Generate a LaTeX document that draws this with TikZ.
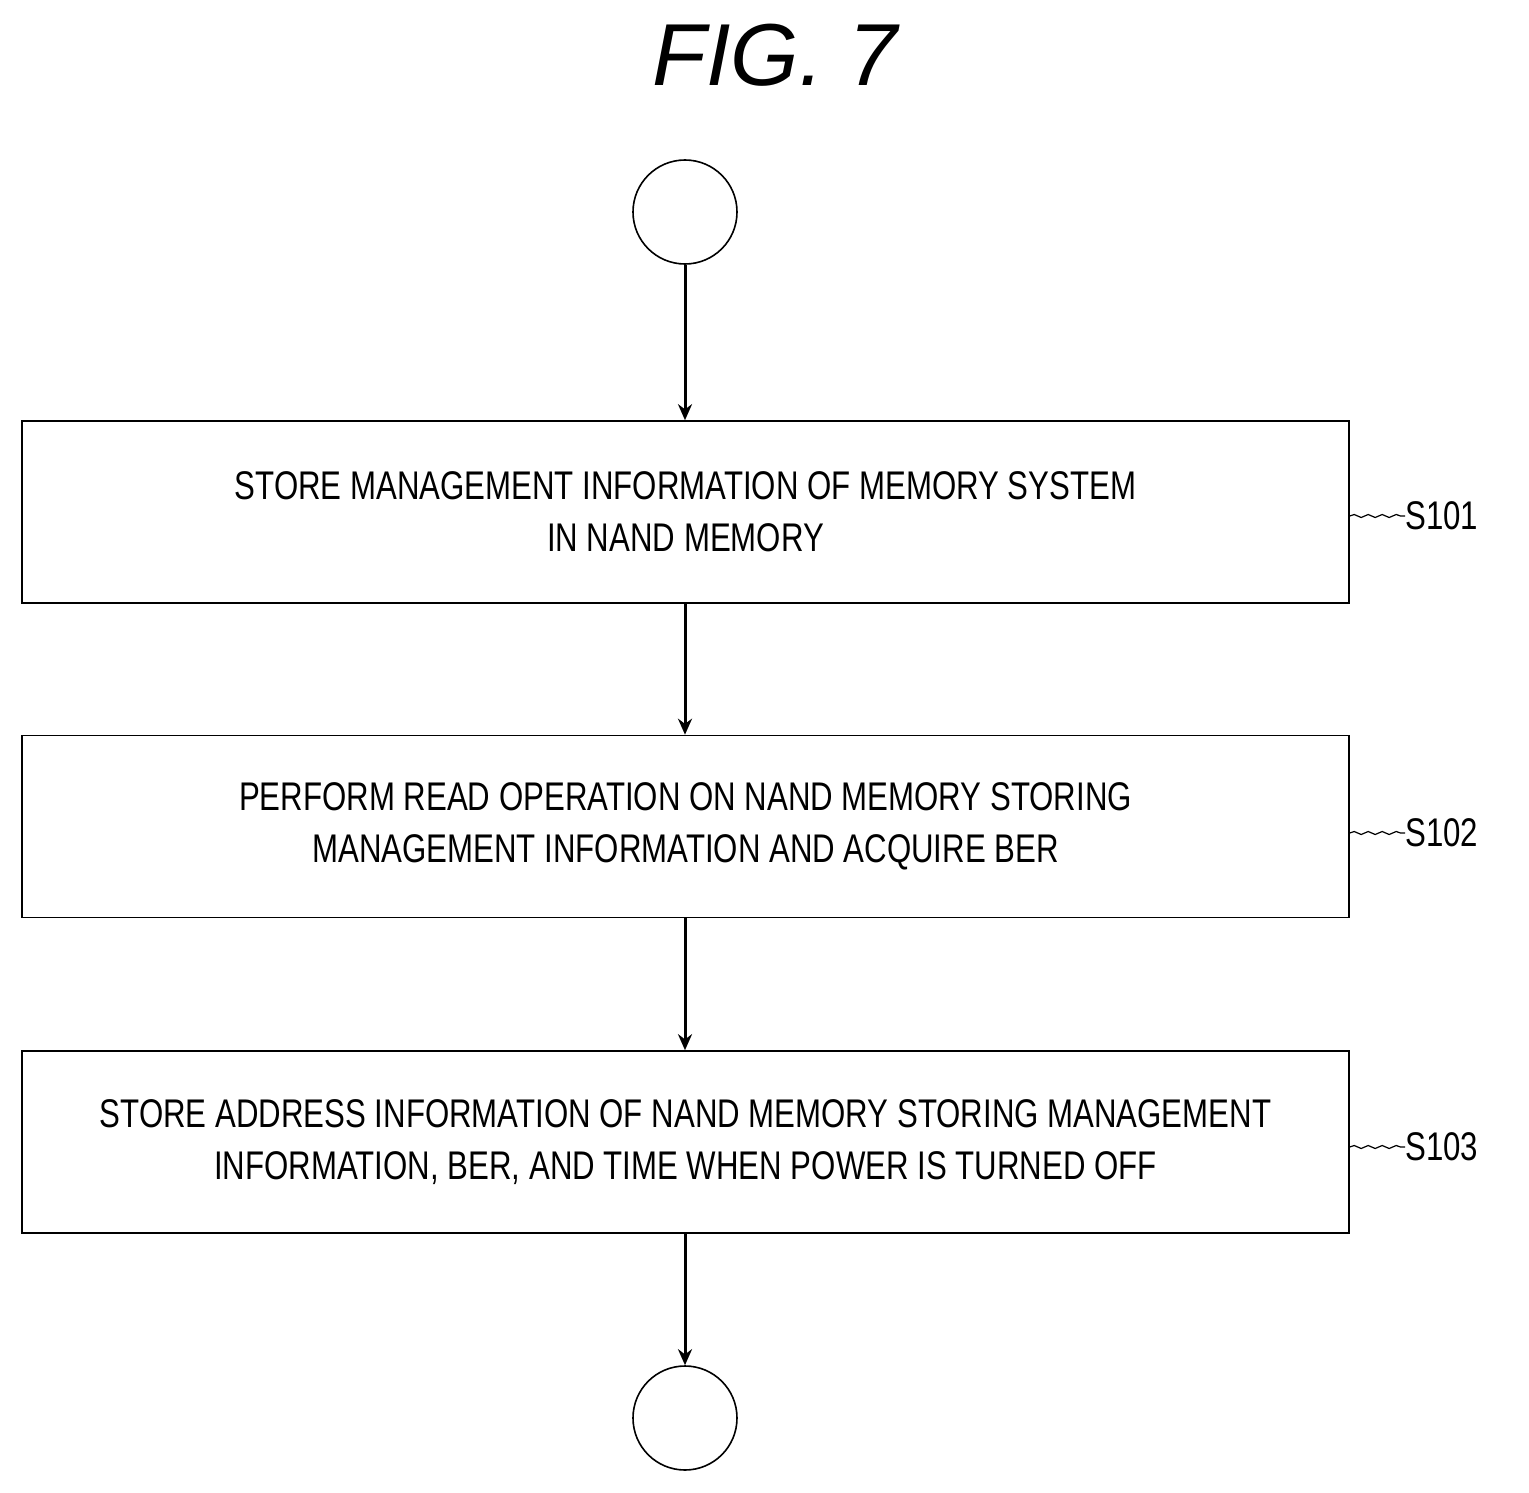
\documentclass[tikz,border=0pt]{standalone}
\usepackage{fontspec}
\setmainfont{Liberation Sans}[FakeStretch=0.78]
\newfontfamily\titlefont{Liberation Sans}
\usetikzlibrary{arrows.meta,decorations.pathmorphing}
\begin{document}
\begin{tikzpicture}[x=1pt,y=-1pt,
 box/.style={draw,line width=1.6pt,minimum width=1327pt,minimum height=182pt,align=center,font=\fontsize{40}{52}\selectfont,inner sep=0pt},
 term/.style={draw,circle,line width=1.6pt,minimum size=104pt,inner sep=0pt},
 arr/.style={line width=3pt,-{Stealth[length=16pt,width=14pt]}},
 lab/.style={font=\fontsize{40}{48}\selectfont,anchor=west,inner sep=0pt},
 sq/.style={line width=1.2pt,decorate,decoration={snake,amplitude=1.5pt,segment length=14pt}}]
\useasboundingbox (0,0) rectangle (1529,1493);
\node[font=\titlefont\itshape\fontsize{88}{90}\selectfont] (title) at (775,55) {FIG.\ 7};
\node[term] (start) at (685,212) {};
\node[box] (b1) at (685.5,512) {STORE MANAGEMENT INFORMATION OF MEMORY SYSTEM\\IN NAND MEMORY};
\node[box] (b2) at (685.5,826.5) {PERFORM READ OPERATION ON NAND MEMORY STORING\\MANAGEMENT INFORMATION AND ACQUIRE BER};
\node[box] (b3) at (685.5,1142) {STORE ADDRESS INFORMATION OF NAND MEMORY STORING MANAGEMENT\\INFORMATION, BER, AND TIME WHEN POWER IS TURNED OFF};
\node[term] (end) at (685,1418) {};
\draw[arr] (start) -- (b1.north -| start);
\draw[arr] (b1.south -| start) -- (b2.north -| start);
\draw[arr] (b2.south -| start) -- (b3.north -| start);
\draw[arr] (b3.south -| start) -- (end);
\node[lab] (l1) at (1405,516) {S101};
\node[lab] (l2) at (1405,833) {S102};
\node[lab] (l3) at (1405,1147) {S103};
\draw[sq] (b1.east |- l1.west) -- (l1.west);
\draw[sq] (b2.east |- l2.west) -- (l2.west);
\draw[sq] (b3.east |- l3.west) -- (l3.west);
\end{tikzpicture}
\end{document}
